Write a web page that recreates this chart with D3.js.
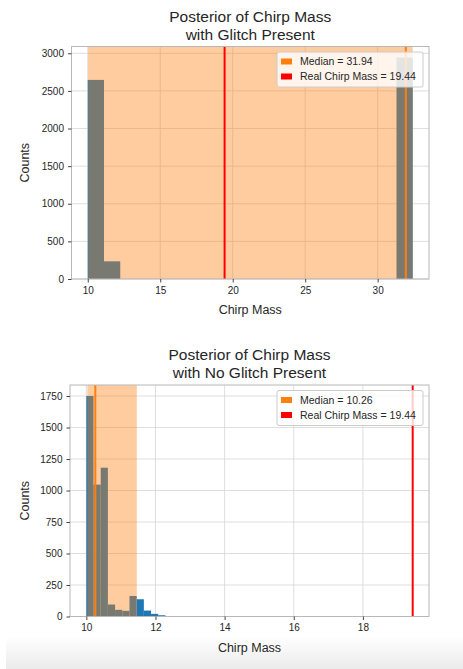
<!DOCTYPE html>
<html lang="en">
<head>
  <meta charset="UTF-8">
  <title>Posterior of Chirp Mass</title>
  <style>
    body { margin: 0; background: #fff; }
    svg { display: block; font-family: "Liberation Sans", Arial, sans-serif; }
  </style>
</head>
<body>
  <svg width="463" height="669" class="svgs"></svg>
  <script src="https://cdn.jsdelivr.net/npm/d3@7/dist/d3.min.js"></script>
  <script>
    // glitch present: 20 bins between first and last edge
    const glitchRange = [10.0, 32.42]
    const glitchCounts = [2646, 235, 0, 0, 0, 0, 0, 0, 0, 0, 0, 0, 0, 0, 0, 0, 0, 0, 0, 2943]
    const glitchMedian = 31.94
    const glitchInterval = [10.03, 32.42]

    // no glitch present
    const noGlitchRange = [10.0, 12.288]
    const noGlitchCounts = [1750, 1047, 1181, 95, 53, 45, 163, 137, 47, 21, 10]
    const noGlitchMedian = 10.26
    const noGlitchInterval = [10.03, 11.46]

    const realChirpMass = 19.44

    const glitchXTicks = [10, 15, 20, 25, 30]
    const glitchYTicks = [0, 500, 1000, 1500, 2000, 2500, 3000]
    const noGlitchXTicks = [10, 12, 14, 16, 18]
    const noGlitchYTicks = [0, 250, 500, 750, 1000, 1250, 1500, 1750]

    const mainsvg = d3.select('.svgs')

    // faint grey fade at the bottom of the screenshot
    const defs = mainsvg.append('defs')
    const grad = defs.append('linearGradient').attr('id', 'fade')
      .attr('x1', 0).attr('y1', 0).attr('x2', 0).attr('y2', 1)
    grad.append('stop').attr('offset', '0%').attr('stop-color', '#ffffff')
    grad.append('stop').attr('offset', '100%').attr('stop-color', '#ebebeb')
    mainsvg.append('rect')
      .attr('x', 6).attr('y', 636).attr('width', 457).attr('height', 33)
      .attr('fill', 'url(#fade)')

    function drawPanel(opt) {
      const { box, range, counts, median, interval, xTicks, yTicks, title } = opt
      const g = mainsvg.append('g')
      const binW = (range[1] - range[0]) / counts.length
      const bins = counts.map((c, i) => ({ x0: range[0] + i * binW, x1: range[0] + (i + 1) * binW, c }))

      const lo = Math.min(range[0], realChirpMass, interval[0])
      const hi = Math.max(range[1], realChirpMass, interval[1])
      const pad = (hi - lo) * 0.05
      const xScale = d3.scaleLinear().domain([lo - pad, hi + pad]).range([box.left, box.right])
      const yScale = d3.scaleLinear().domain([0, d3.max(counts) * 1.05]).range([box.bottom, box.top])

      // grid
      g.append('g').selectAll('line').data(xTicks).join('line')
        .attr('x1', d => xScale(d)).attr('x2', d => xScale(d))
        .attr('y1', box.top).attr('y2', box.bottom)
        .attr('stroke', '#d6d6d6').attr('stroke-width', 0.8)
      g.append('g').selectAll('line').data(yTicks).join('line')
        .attr('x1', box.left).attr('x2', box.right)
        .attr('y1', d => yScale(d)).attr('y2', d => yScale(d))
        .attr('stroke', '#d6d6d6').attr('stroke-width', 0.8)

      // histogram
      g.append('g').selectAll('rect').data(bins.filter(b => b.c > 0)).join('rect')
        .attr('x', d => xScale(d.x0))
        .attr('width', d => xScale(d.x1) - xScale(d.x0))
        .attr('y', d => yScale(d.c))
        .attr('height', d => yScale(0) - yScale(d.c))
        .attr('fill', '#1f77b4')

      // credible interval span
      g.append('rect')
        .attr('x', xScale(interval[0]))
        .attr('width', xScale(interval[1]) - xScale(interval[0]))
        .attr('y', box.top).attr('height', box.bottom - box.top)
        .attr('fill', '#ff7f0e').attr('opacity', 0.4)

      // median & true value
      g.append('line')
        .attr('x1', xScale(median)).attr('x2', xScale(median))
        .attr('y1', box.top).attr('y2', box.bottom)
        .attr('stroke', '#ff7f0e').attr('stroke-width', 2)
      g.append('line')
        .attr('x1', xScale(realChirpMass)).attr('x2', xScale(realChirpMass))
        .attr('y1', box.top).attr('y2', box.bottom)
        .attr('stroke', '#ff0000').attr('stroke-width', 2)

      // spines
      g.append('rect')
        .attr('x', box.left).attr('y', box.top)
        .attr('width', box.right - box.left).attr('height', box.bottom - box.top)
        .attr('fill', 'none').attr('stroke', '#b8b8b8').attr('stroke-width', 1)

      // axes
      const xAxis = d3.axisBottom(xScale).tickValues(xTicks).tickSize(3.5).tickPadding(4)
      const ax = g.append('g').attr('transform', `translate(0, ${box.bottom})`).call(xAxis)
      const yAxis = d3.axisLeft(yScale).tickValues(yTicks).tickSize(3.5).tickPadding(4).tickFormat(d3.format('d'))
      const ay = g.append('g').attr('transform', `translate(${box.left}, 0)`).call(yAxis)
      for (const a of [ax, ay]) {
        a.select('.domain').remove()
        a.selectAll('.tick line').attr('stroke', '#444')
        a.selectAll('.tick text').attr('font-size', '10px').attr('fill', '#262626')
          .attr('font-family', '"Liberation Sans", Arial, sans-serif')
      }

      const cx = (box.left + box.right) / 2
      g.append('text').text('Chirp Mass')
        .attr('x', cx).attr('y', box.bottom + 35)
        .attr('text-anchor', 'middle').attr('font-size', '12.5px').attr('fill', '#262626')
      g.append('text').text('Counts')
        .attr('transform', `translate(29, ${(box.top + box.bottom) / 2}) rotate(-90)`)
        .attr('text-anchor', 'middle').attr('font-size', '12.5px').attr('fill', '#262626')

      title.forEach((t, i) => {
        g.append('text').text(t)
          .attr('x', cx).attr('y', box.top - 25 + i * 18)
          .attr('text-anchor', 'middle').attr('font-size', '15.5px').attr('fill', '#262626')
      })

      // legend
      const lg = g.append('g').attr('transform', `translate(${box.right - 152}, ${box.top + 5.5})`)
      lg.append('rect').attr('width', 146).attr('height', 35).attr('rx', 2)
        .attr('fill', '#fff').attr('fill-opacity', 0.8).attr('stroke', '#cccccc')
      const items = [
        { label: `Median = ${median.toFixed(2)}`, color: '#ff7f0e' },
        { label: `Real Chirp Mass = ${realChirpMass.toFixed(2)}`, color: '#ff0000' }
      ]
      items.forEach((it, i) => {
        const y = 9.5 + i * 15
        lg.append('rect').attr('x', 4).attr('y', y - 3).attr('width', 11).attr('height', 6).attr('fill', it.color)
        lg.append('text').text(it.label).attr('x', 23).attr('y', y + 3.7)
          .attr('font-size', '10.5px').attr('fill', '#262626')
      })
    }

    drawPanel({
      box: { left: 71.5, right: 429, top: 46.5, bottom: 279 },
      range: glitchRange, counts: glitchCounts, median: glitchMedian, interval: glitchInterval,
      xTicks: glitchXTicks, yTicks: glitchYTicks,
      title: ['Posterior of Chirp Mass', 'with Glitch Present']
    })
    drawPanel({
      box: { left: 70, right: 429, top: 385, bottom: 616.5 },
      range: noGlitchRange, counts: noGlitchCounts, median: noGlitchMedian, interval: noGlitchInterval,
      xTicks: noGlitchXTicks, yTicks: noGlitchYTicks,
      title: ['Posterior of Chirp Mass', 'with No Glitch Present']
    })
  </script>
</body>
</html>
